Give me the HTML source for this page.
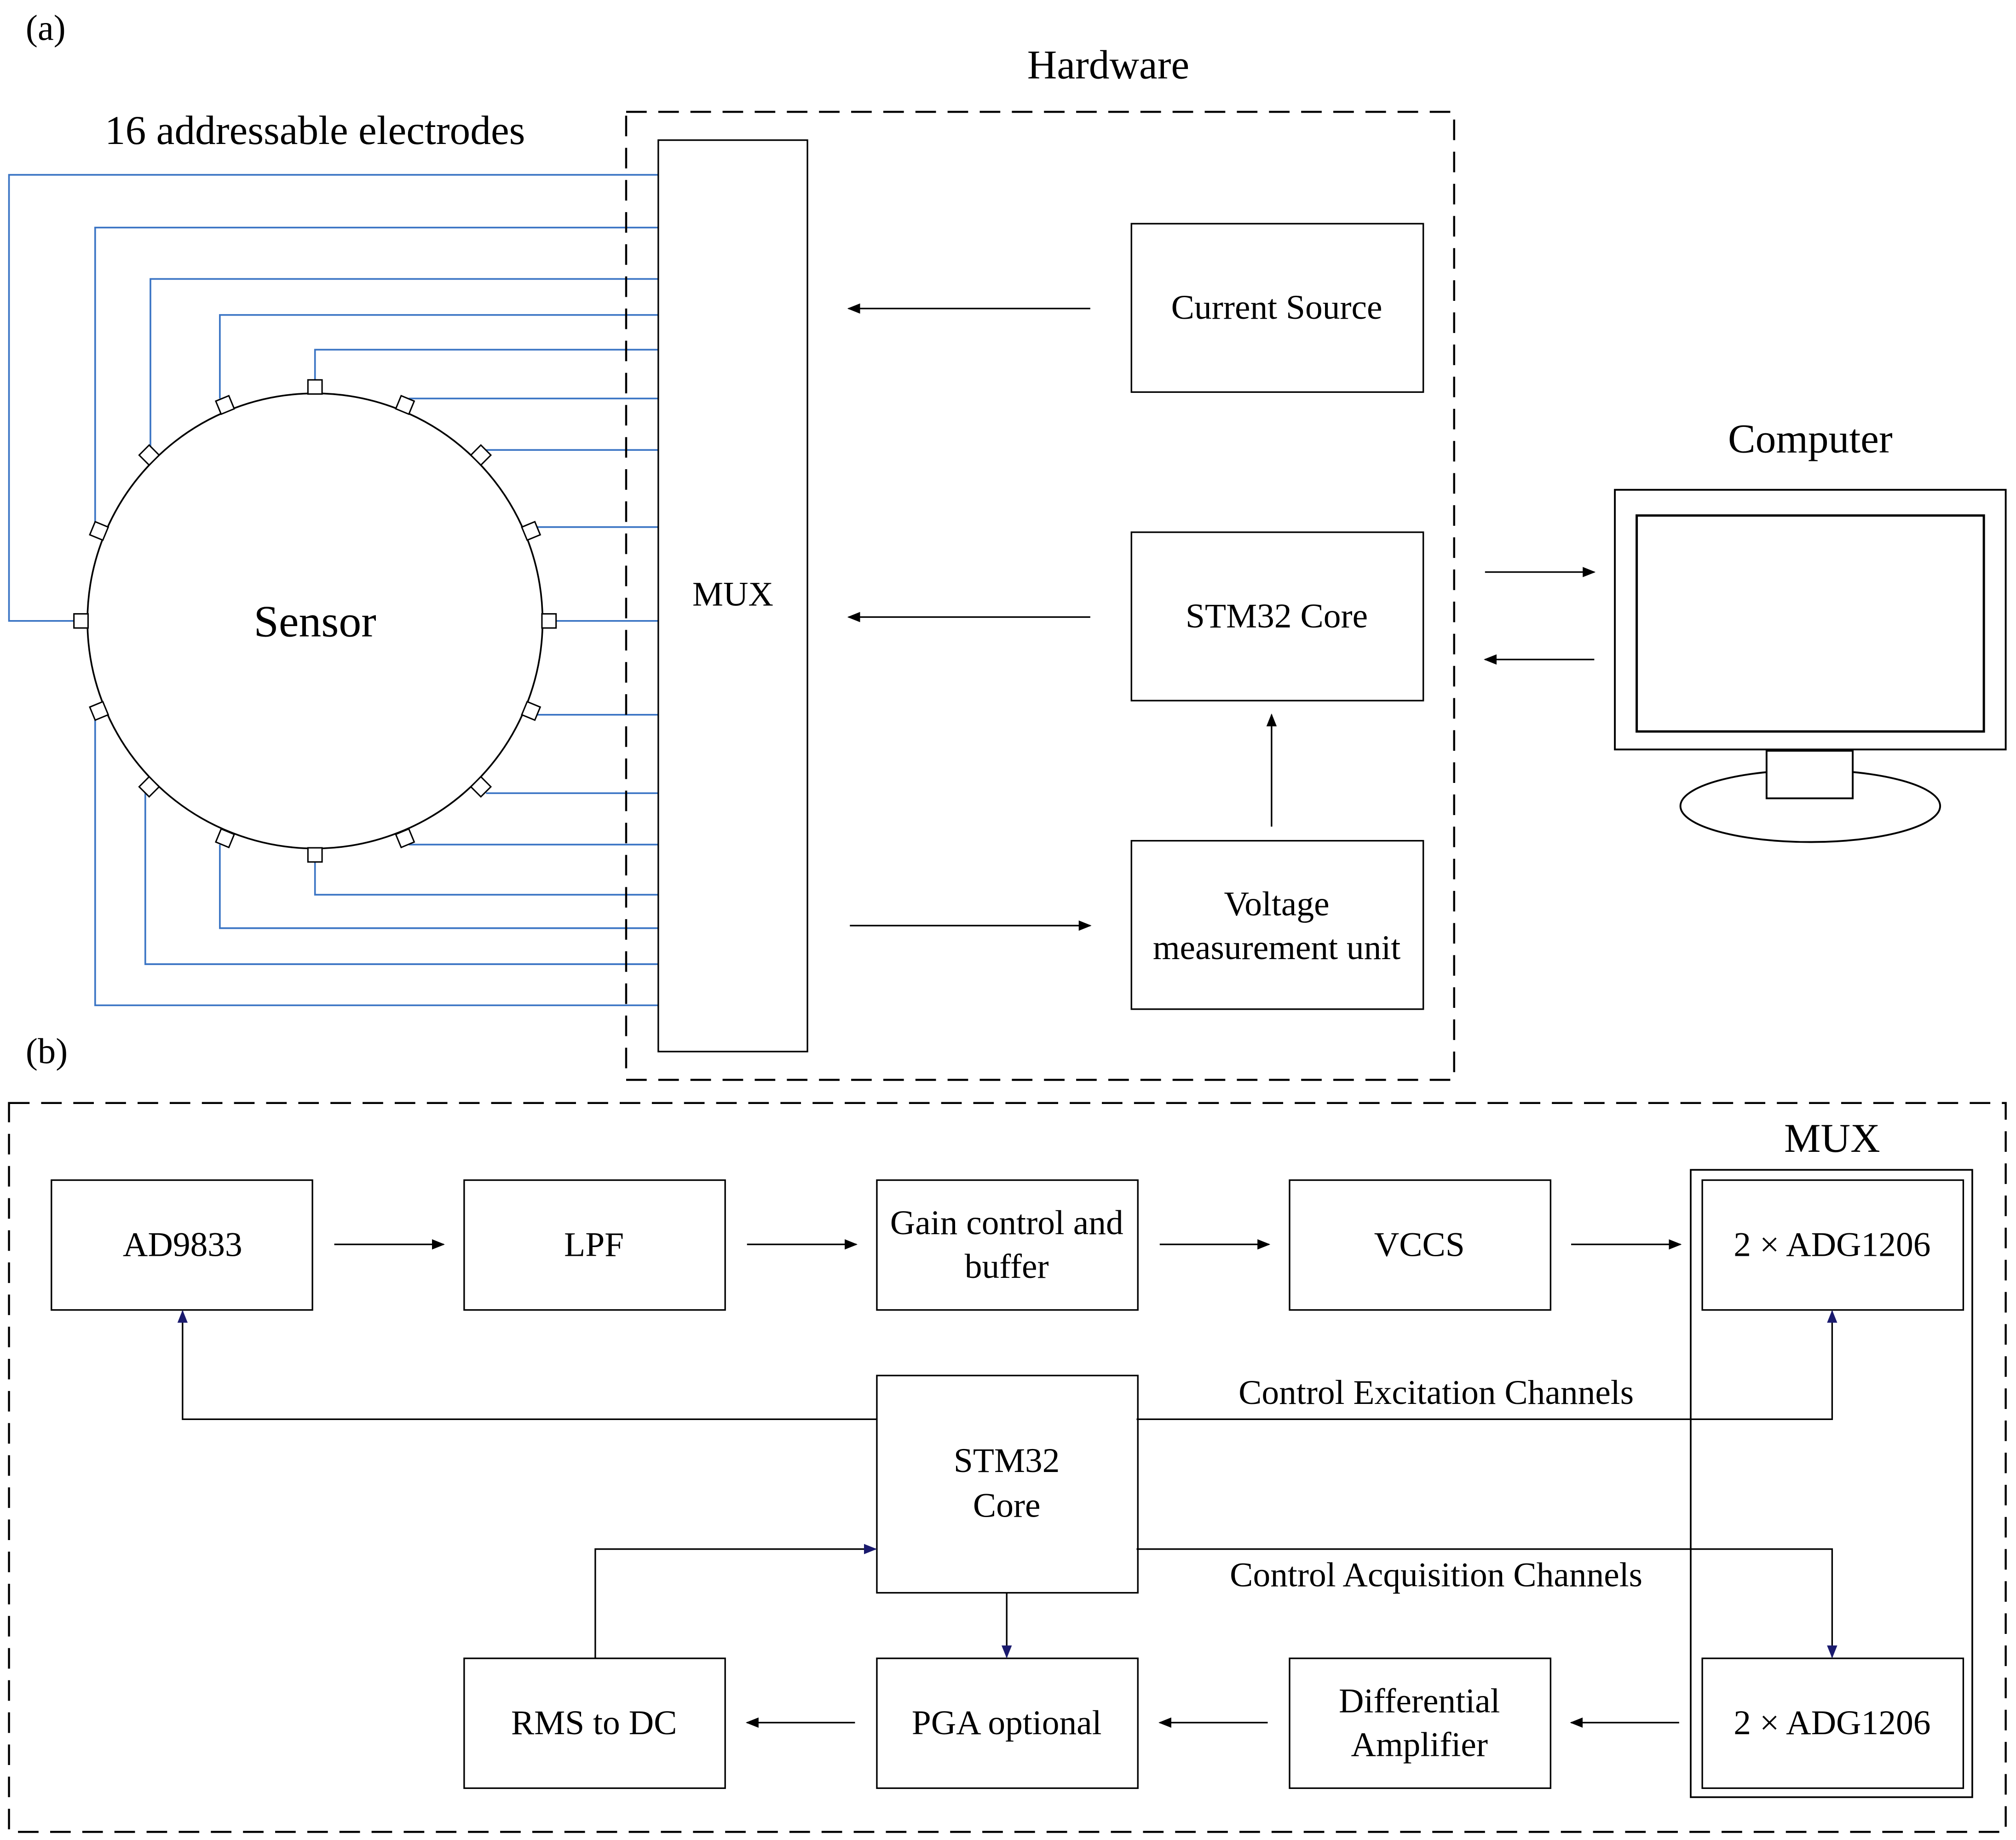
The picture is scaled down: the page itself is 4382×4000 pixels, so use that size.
<!DOCTYPE html>
<html><head><meta charset="utf-8"><style>
html,body{margin:0;padding:0;background:#fff}
svg{display:block}
svg text{font-family:"Liberation Serif","Times New Roman","DejaVu Serif",serif !important;fill:#000}
</style></head><body>
<svg width="4382" height="4000" viewBox="0 0 1568 1431.3" xmlns="http://www.w3.org/2000/svg" font-family="Liberation Serif, Times New Roman, DejaVu Serif, serif">
<defs>
<marker id="a" markerWidth="10" markerHeight="8" refX="9" refY="4" orient="auto" markerUnits="userSpaceOnUse"><path d="M0,0 L10,4 L0,8 z" fill="#000"/></marker>
<marker id="b" markerWidth="10" markerHeight="8" refX="9" refY="4" orient="auto" markerUnits="userSpaceOnUse"><path d="M0,0 L10,4 L0,8 z" fill="#1a1a6e"/></marker>
</defs>
<rect width="1568" height="1432" fill="#fff"/>
<text x="20" y="31" font-size="28">(a)</text>
<text x="862" y="61" font-size="32" text-anchor="middle">Hardware</text>
<text x="245" y="112" font-size="32" text-anchor="middle">16 addressable electrodes</text>
<text x="1408" y="352" font-size="32" text-anchor="middle">Computer</text>

<g stroke="#3a74c4" stroke-width="1.3" fill="none">
<polyline points="57,483 7,483 7,136 512,136"/>
<polyline points="74,408 74,177 512,177"/>
<polyline points="117,348 117,217 512,217"/>
<polyline points="171,310 171,245 512,245"/>
<polyline points="245,296 245,272 512,272"/>
<polyline points="318,310 512,310"/>
<polyline points="378,350 512,350"/>
<polyline points="415,410 512,410"/>
<polyline points="433,483 512,483"/>
<polyline points="415,556 512,556"/>
<polyline points="378,617 512,617"/>
<polyline points="318,657 512,657"/>
<polyline points="245,670 245,696 512,696"/>
<polyline points="171,657 171,722 512,722"/>
<polyline points="113,617 113,750 512,750"/>
<polyline points="74,558 74,782 512,782"/>
</g>
<circle cx="245" cy="483" r="177" fill="none" stroke="#000" stroke-width="1.3"/>
<g fill="#fff" stroke="#000" stroke-width="1.1">
<rect x="-5.5" y="-5.5" width="11" height="11" transform="translate(245,301) rotate(0)"/>
<rect x="-5.5" y="-5.5" width="11" height="11" transform="translate(175,315) rotate(-22.5)"/>
<rect x="-5.5" y="-5.5" width="11" height="11" transform="translate(116,354) rotate(-45)"/>
<rect x="-5.5" y="-5.5" width="11" height="11" transform="translate(77,413) rotate(-67.5)"/>
<rect x="-5.5" y="-5.5" width="11" height="11" transform="translate(63,483)"/>
<rect x="-5.5" y="-5.5" width="11" height="11" transform="translate(77,553) rotate(67.5)"/>
<rect x="-5.5" y="-5.5" width="11" height="11" transform="translate(116,612) rotate(45)"/>
<rect x="-5.5" y="-5.5" width="11" height="11" transform="translate(175,652) rotate(22.5)"/>
<rect x="-5.5" y="-5.5" width="11" height="11" transform="translate(245,665)"/>
<rect x="-5.5" y="-5.5" width="11" height="11" transform="translate(315,652) rotate(-22.5)"/>
<rect x="-5.5" y="-5.5" width="11" height="11" transform="translate(374,612) rotate(-45)"/>
<rect x="-5.5" y="-5.5" width="11" height="11" transform="translate(413,553) rotate(-67.5)"/>
<rect x="-5.5" y="-5.5" width="11" height="11" transform="translate(427,483)"/>
<rect x="-5.5" y="-5.5" width="11" height="11" transform="translate(413,413) rotate(67.5)"/>
<rect x="-5.5" y="-5.5" width="11" height="11" transform="translate(374,354) rotate(45)"/>
<rect x="-5.5" y="-5.5" width="11" height="11" transform="translate(315,315) rotate(22.5)"/>
</g>
<text x="245" y="495" font-size="35" text-anchor="middle">Sensor</text>

<rect x="487" y="87" width="644" height="753" fill="none" stroke="#000" stroke-width="1.6" stroke-dasharray="16,9"/>
<rect x="512" y="109" width="116" height="709" fill="none" stroke="#000" stroke-width="1.2"/>
<text x="570" y="471" font-size="27" text-anchor="middle">MUX</text>
<g fill="none" stroke="#000" stroke-width="1.2">
<rect x="880" y="174" width="227" height="131"/>
<rect x="880" y="414" width="227" height="131"/>
<rect x="880" y="654" width="227" height="131"/>
</g>
<text x="993" y="248" font-size="27" text-anchor="middle">Current Source</text>
<text x="993" y="488" font-size="27" text-anchor="middle">STM32 Core</text>
<text x="993" y="712" font-size="27" text-anchor="middle">Voltage</text>
<text x="993" y="746" font-size="27" text-anchor="middle">measurement unit</text>
<g stroke="#000" stroke-width="1.2" marker-end="url(#a)">
<line x1="848" y1="240" x2="660" y2="240"/>
<line x1="848" y1="480" x2="660" y2="480"/>
<line x1="661" y1="720" x2="848" y2="720"/>
<line x1="989" y1="643" x2="989" y2="556"/>
<line x1="1155" y1="445" x2="1240" y2="445"/>
<line x1="1240" y1="513" x2="1155" y2="513"/>
</g>
<g fill="none" stroke="#000" stroke-width="1.4">
<rect x="1256" y="381" width="304" height="202"/>
<rect x="1273" y="401" width="270" height="168" stroke-width="1.8"/>
<ellipse cx="1408" cy="627" rx="101" ry="28"/>
<rect x="1374" y="584" width="67" height="37" fill="#fff"/>
</g>

<text x="20" y="827" font-size="28">(b)</text>
<rect x="7" y="858" width="1553" height="567" fill="none" stroke="#000" stroke-width="1.6" stroke-dasharray="16,9"/>
<text x="1425" y="896" font-size="32" text-anchor="middle">MUX</text>
<rect x="1315" y="910" width="219" height="488" fill="none" stroke="#000" stroke-width="1.3"/>
<g fill="none" stroke="#000" stroke-width="1.2">
<rect x="40" y="918" width="203" height="101"/>
<rect x="361" y="918" width="203" height="101"/>
<rect x="682" y="918" width="203" height="101"/>
<rect x="1003" y="918" width="203" height="101"/>
<rect x="1324" y="918" width="203" height="101"/>
<rect x="682" y="1070" width="203" height="169"/>
<rect x="361" y="1290" width="203" height="101"/>
<rect x="682" y="1290" width="203" height="101"/>
<rect x="1003" y="1290" width="203" height="101"/>
<rect x="1324" y="1290" width="203" height="101"/>
</g>
<g font-size="27" text-anchor="middle">
<text x="142" y="977">AD9833</text>
<text x="462" y="977">LPF</text>
<text x="783" y="960">Gain control and</text>
<text x="783" y="994">buffer</text>
<text x="1104" y="977">VCCS</text>
<text x="1425" y="977">2 × ADG1206</text>
<text x="783" y="1145">STM32</text>
<text x="783" y="1180">Core</text>
<text x="462" y="1349">RMS to DC</text>
<text x="783" y="1349">PGA optional</text>
<text x="1104" y="1332">Differential</text>
<text x="1104" y="1366">Amplifier</text>
<text x="1425" y="1349">2 × ADG1206</text>
<text x="1117" y="1092">Control Excitation Channels</text>
<text x="1117" y="1234">Control Acquisition Channels</text>
</g>
<g stroke="#000" stroke-width="1.2" fill="none" marker-end="url(#a)">
<line x1="260" y1="968" x2="345" y2="968"/>
<line x1="581" y1="968" x2="666" y2="968"/>
<line x1="902" y1="968" x2="987" y2="968"/>
<line x1="1222" y1="968" x2="1307" y2="968"/>
<line x1="665" y1="1340" x2="581" y2="1340"/>
<line x1="986" y1="1340" x2="902" y2="1340"/>
<line x1="1306" y1="1340" x2="1222" y2="1340"/>
</g>
<g stroke="#000" stroke-width="1.2" fill="none" marker-end="url(#b)">
<polyline points="682,1104 142,1104 142,1020"/>
<polyline points="884,1104 1425,1104 1425,1020"/>
<polyline points="884,1205 1425,1205 1425,1289"/>
<polyline points="783,1239 783,1289"/>
<polyline points="463,1290 463,1205 681,1205"/>
</g>
</svg>
</body></html>
